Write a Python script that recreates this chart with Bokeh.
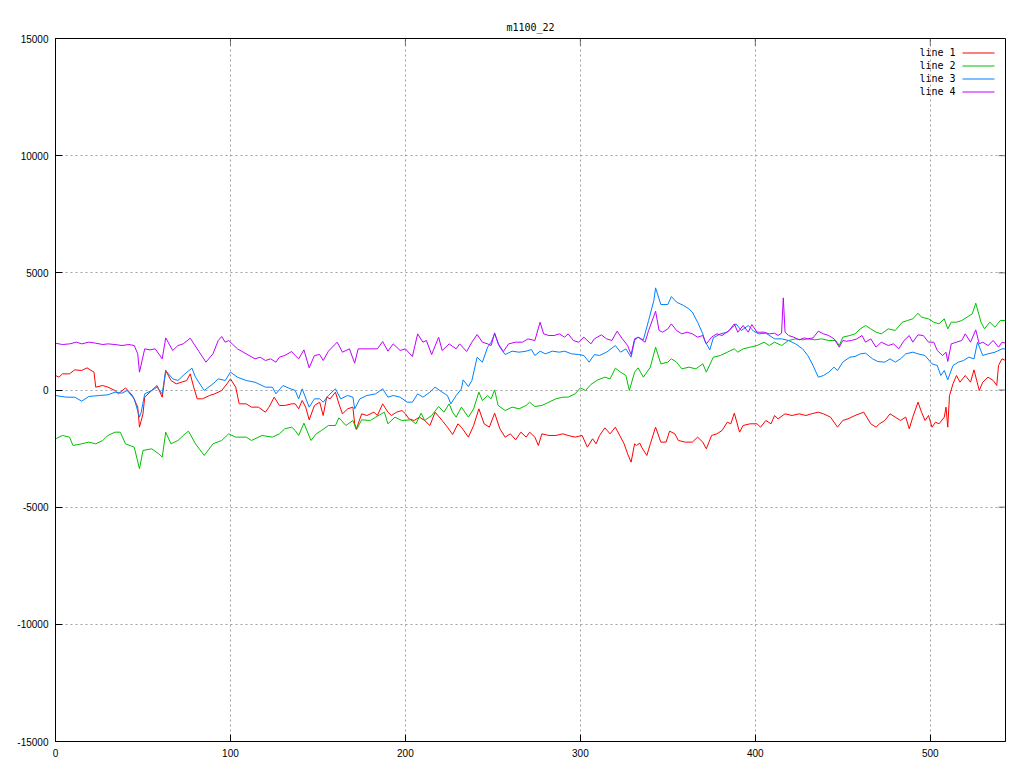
from bokeh.plotting import figure
from bokeh.models import Range1d, FixedTicker, Label, BoxAnnotation
from bokeh.embed import file_html
from bokeh.resources import INLINE

title_text = "m1100_22"
series_names = ["line 1", "line 2", "line 3", "line 4"]
series_colors = ["#ff0000", "#00c000", "#0080ff", "#c000ff"]
x_ticks = [0, 100, 200, 300, 400, 500]
x_tick_labels = ["0", "100", "200", "300", "400", "500"]
y_ticks = [-15000, -10000, -5000, 0, 5000, 10000, 15000]
y_tick_labels = ["-15000", "-10000", "-5000", "0", "5000", "10000", "15000"]

line1 = [(0,619),(2,547),(4,689),(8,689),(11,860),(15,832),(18,946),(22,761),(23,121),(27,192),(30,121),(34,-21),(36,-164),(40,92),(44,-235),(47,-732),(48,-1586),(50,-1017),(51,-306),(55,-21),(58,192),(61,-306),(63,832),(66,405),(69,263),(72,334),(75,405),(77,689),(79,121),(81,-377),(84,-377),(88,-235),(91,-164),(95,-21),(98,263),(100,476),(103,121),(105,-590),(109,-590),(112,-732),(116,-732),(120,-946),(122,-732),(125,-306),(128,-661),(131,-661),(135,-590),
(137,-590),(139,-803),(141,-448),(143,-732),(145,-1273),(148,-661),(151,-519),(153,-1088),(155,-306),(157,-377),(160,-92),(162,-590),(164,-1017),(167,-803),(170,-732),(171,-1443),(172,-1657),(175,-1017),(178,-1088),(182,-946),(184,-1088),(187,-590),(190,-946),(192,-1088),(195,-946),(198,-875),(200,-1017),(202,-1230),(205,-1301),(208,-1159),(211,-1301),(214,-1515),(217,-946),(221,-1301),(224,-1586),(227,-1899),(230,-1443),(232,-1586),(236,-2012),(239,-1515),(242,-803),(245,-1443),(248,-1586),(251,-988),(254,-1657),(257,-2012),(260,-1870),(263,-2126),(266,-1799),(269,-2012),(271,-1799),
(274,-2012),(276,-2368),(278,-1870),(282,-1941),(286,-1941),(290,-1870),(293,-1941),(297,-2012),(301,-1941),(304,-2439),(307,-2083),(309,-2297),(311,-1941),(314,-1614),(317,-1870),(320,-1586),(323,-2012),(325,-2297),(327,-2723),(329,-3079),(331,-2297),(332,-2368),(334,-2268),(335,-2439),(338,-2794),(340,-2297),(343,-1586),(346,-2225),(349,-2225),(351,-1756),(354,-1870),(356,-2154),(360,-2225),(364,-2225),(367,-2012),(370,-2225),(372,-2510),(375,-1941),(378,-1870),(381,-1728),(384,-1372),(386,-1443),(388,-988),(391,-1799),(393,-1515),(397,-1443),(401,-1443),(403,-1586),(406,-1301),(409,-1443),
(411,-1088),(413,-1230),(417,-1017),(421,-1088),(425,-1017),(429,-1088),(432,-1017),(436,-946),(439,-1017),(443,-1159),(447,-1586),(450,-1301),(453,-1230),(457,-1088),(462,-946),(466,-1443),(469,-1586),(471,-1443),(474,-1301),(477,-1017),(480,-1159),(483,-1301),(486,-1159),(488,-1657),(490,-1159),(493,-519),(495,-946),(497,-1301),(499,-1088),(501,-1586),(503,-1372),(505,-1443),(508,-1159),(509,-732),(510,-1586),(511,-235),(513,263),(515,619),(517,334),(520,619),(523,334),(525,860),(528,-21),(530,334),(533,547),(536,405),(538,192),(539,1045),(541,1330),(543,1258)]

line2 = [(0,-2083),(4,-1941),(8,-2012),(10,-2368),(15,-2297),(19,-2225),(23,-2297),(27,-2154),(30,-1941),(34,-1799),(37,-1799),(40,-2297),(45,-2439),(48,-3363),(50,-2581),(55,-2510),(59,-2723),(61,-2865),(63,-1799),(66,-2297),(70,-2154),(73,-1941),(76,-1756),(80,-2297),(85,-2794),(90,-2297),(95,-2154),(99,-1870),(103,-2012),(109,-2012),(112,-2154),(118,-1941),(124,-2012),(128,-1870),(131,-1657),(135,-1586),
(137,-1728),(139,-1941),(142,-1415),(146,-2154),(149,-1870),(152,-1728),(156,-1515),(160,-1515),(162,-1187),(166,-1515),(170,-1301),(172,-1699),(175,-1273),(180,-1301),(183,-1159),(188,-946),(190,-1443),(194,-1159),(198,-1301),(203,-1273),(206,-1443),(209,-988),(211,-1301),(215,-1088),(219,-704),(222,-946),(225,-590),(227,-946),(229,-1159),(232,-732),(236,-1159),(239,-803),(242,-92),(244,-448),(247,-235),(249,-377),(251,7),(253,-661),(257,-875),(261,-732),(265,-803),(269,-661),(271,-519),
(274,-704),(278,-661),(282,-519),(286,-377),(290,-306),(293,-306),(297,-164),(300,92),(303,-21),(306,235),(310,434),(314,547),(317,476),(320,931),(323,761),(326,619),(328,-21),(331,761),(333,946),(336,547),(340,974),(343,1827),(346,1116),(350,1187),(352,1330),(355,1187),(358,903),(362,974),(366,903),(370,1116),(372,761),(376,1401),(380,1472),(384,1614),(388,1756),(390,1614),(393,1756),(397,1827),(401,1898),(405,2041),(408,1898),
(411,2041),(415,1898),(419,2112),(423,2183),(427,2140),(430,2183),(434,2140),(438,2183),(442,2112),(446,2112),(448,1898),(450,2254),(454,2325),(457,2396),(460,2609),(463,2752),(466,2609),(469,2467),(472,2396),(476,2609),(480,2538),(484,2894),(487,2965),(490,3036),(493,3278),(495,3107),(499,3036),(502,2894),(505,2823),(508,3036),(510,2609),(512,2894),(515,2894),(518,2965),(521,3107),(524,3249),(526,3704),(529,2894),(531,2609),(534,2894),(537,2681),(540,2965),(543,2965)]

line3 = [(0,-235),(6,-306),(11,-306),(15,-476),(19,-277),(25,-235),(30,-206),(34,-92),(38,-135),(41,-21),(45,-377),(48,-1159),(49,-946),(51,-164),(55,-21),(58,121),(61,-164),(63,832),(67,476),(70,405),(74,689),(78,931),(80,547),(85,-21),(90,263),(93,476),(97,405),(100,761),(104,547),(109,405),(114,334),(120,121),(124,121),(126,-164),(130,192),(133,92),
(137,-21),(139,-377),(141,50),(145,-732),(148,-377),(151,-377),(153,-519),(156,-235),(160,50),(163,-377),(167,-235),(170,-306),(171,-803),(174,-377),(178,-235),(183,-164),(187,50),(190,-306),(193,-235),(197,-306),(201,-519),(204,-519),(207,-164),(210,-306),(214,-92),(217,121),(221,-92),(224,-235),(226,-590),(229,-235),(232,50),(233,434),(236,149),(238,405),(241,1401),(244,1187),(247,1827),(249,2041),(251,2396),(254,1827),(257,1514),(261,1656),(265,1614),(269,1656),(272,1728),
(274,1472),(277,1656),(280,1543),(284,1656),(288,1614),(291,1656),(295,1543),(299,1514),(302,1472),(305,1187),(308,1514),(311,1472),(315,1614),(320,1898),(323,1614),(326,1756),(329,1401),(331,2112),(333,2254),(336,2140),(339,2965),(342,3818),(343,4358),(346,3647),(350,3647),(352,3988),(355,3747),(359,3605),(362,3463),(364,3321),(367,2894),(370,2396),(371,2112),(374,1713),(376,2225),(380,2396),(384,2467),(389,2823),(392,2538),(396,2752),(399,2510),(402,2396),(406,2425),
(411,2183),(415,2183),(419,2112),(423,1969),(427,1756),(430,1472),(433,1045),(436,547),(439,619),(442,761),(445,974),(447,832),(450,1187),(454,1401),(457,1429),(460,1543),(463,1571),(467,1330),(470,1216),(474,1187),(477,1330),(480,1187),(483,1330),(486,1543),(490,1614),(493,1543),(497,1472),(501,1116),(504,1045),(506,619),(508,832),(510,434),(513,1045),(516,1187),(519,1258),(522,1401),(525,1330),(527,2041),(530,1472),(533,1543),(537,1614),(541,1756),(543,1756)]

line4 = [(0,1998),(4,1940),(8,1969),(12,2041),(15,1969),(19,2041),(23,1998),(27,1940),(30,1969),(34,1940),(38,1898),(42,1940),(45,1898),(47,1543),(48,761),(51,1756),(54,1713),(57,1756),(61,1330),(63,2225),(67,1685),(70,1898),(73,1969),(77,2211),(82,1642),(86,1187),(90,1543),(93,2112),(95,2282),(97,2040),(99,2112),(101,1969),(104,1756),(109,1543),(114,1330),(117,1400),(120,1258),(123,1330),(126,1187),(128,1401),(131,1472),(135,1642),
(137,1472),(139,1330),(142,1713),(145,945),(148,1472),(151,1514),(153,1258),(156,1656),(161,2041),(164,1614),(168,1756),(171,1145),(173,1756),(177,1756),(181,1756),(184,1756),(187,2069),(190,1656),(193,1969),(197,1685),(200,1756),(204,1429),(207,2396),(210,2041),(212,2112),(215,1514),(219,2254),(221,1685),(225,1969),(229,1756),(231,1969),(235,1642),(238,2041),(241,2368),(244,2041),(247,1969),(249,1898),(251,2439),(253,1969),(256,1642),(259,1969),(263,2041),(267,2041),(270,2183),
(274,2112),(277,2893),(279,2396),(282,2325),(285,2325),(288,2396),(291,2254),(293,2396),(296,2112),(299,2041),(302,2254),(306,1969),(308,2183),(312,2353),(315,2183),(318,2112),(321,2510),(324,2183),(327,1898),(329,1514),(331,2183),(333,2254),(337,2041),(339,2538),(343,3363),(345,2538),(347,2467),(350,2609),(352,2823),(355,2538),(358,2396),(361,2467),(364,2396),(367,2254),(370,2325),(372,1969),(375,2254),(378,2396),(381,2325),(385,2538),(388,2823),(390,2467),(393,2752),(396,2467),(398,2794),(401,2467),(405,2467),(408,2396),
(411,2425),(413,2325),(415,2425),(416,3932),(417,2467),(419,2325),(422,2254),(425,2140),(428,2225),(430,2183),(433,2225),(436,2510),(439,2396),(442,2325),(445,2183),(448,1827),(450,2112),(452,2083),(455,2112),(458,2183),(461,2325),(463,2041),(466,2183),(469,1827),(472,2041),(476,1898),(479,1969),(482,1756),(485,2112),(488,2325),(490,2041),(493,2353),(496,2325),(499,2041),(502,2041),(504,1685),(507,1472),(509,1614),(510,1216),(512,1969),(515,2041),(518,2112),(520,2396),(523,2041),(526,2567),(528,1969),(530,2041),(533,1898),(536,2112),(539,1827),(541,2041),(543,1998)]

all_series = [line1, line2, line3, line4]

FRAME_W = 950
FRAME_H = 703
TICK = 7

p = figure(width=1016, height=762, output_backend="svg", toolbar_location=None,
           x_range=Range1d(0, 543), y_range=Range1d(-15000, 15000),
           min_border_left=55, min_border_right=11, min_border_top=38, min_border_bottom=21)
p.background_fill_color = "white"
p.border_fill_color = "white"
p.outline_line_color = "black"
p.outline_line_width = 1

p.title.text = title_text
p.title.align = "center"
p.title.text_font = "DejaVu Sans Mono"
p.title.text_font_size = "10px"
p.title.text_font_style = "normal"
p.title.text_color = "black"
p.title.standoff = 12

def style_axis(ax, ticks, labels):
    ax.ticker = FixedTicker(ticks=ticks)
    ax.major_label_overrides = {t: l for t, l in zip(ticks, labels)}
    ax.major_tick_in = TICK
    ax.major_tick_out = 0
    ax.minor_tick_in = 0
    ax.minor_tick_out = 0
    ax.major_tick_line_color = "black"
    ax.axis_line_color = "black"
    ax.major_label_text_font = "Liberation Sans"
    ax.major_label_text_font_size = "10px"
    ax.major_label_text_color = "black"
    ax.major_label_standoff = 7

style_axis(p.xaxis[0], x_ticks, x_tick_labels)
style_axis(p.yaxis[0], y_ticks, y_tick_labels)

# mirrored inward ticks on the right and top frame edges
for t in y_ticks:
    p.add_layout(BoxAnnotation(left=FRAME_W - TICK, right=FRAME_W, top=t, bottom=t,
                               left_units="screen", right_units="screen",
                               fill_alpha=0, line_color="black", line_width=1))
for t in x_ticks:
    p.add_layout(BoxAnnotation(left=t, right=t, top=FRAME_H, bottom=FRAME_H - TICK,
                               top_units="screen", bottom_units="screen",
                               fill_alpha=0, line_color="black", line_width=1))

p.xgrid.ticker = FixedTicker(ticks=x_ticks)
p.ygrid.ticker = FixedTicker(ticks=y_ticks)
for g in (p.xgrid[0], p.ygrid[0]):
    g.grid_line_color = "#a0a0a0"
    g.grid_line_dash = "2 3"
    g.grid_line_width = 1

for data, color in zip(all_series, series_colors):
    xs = [d[0] for d in data]
    ys = [d[1] for d in data]
    p.line(xs, ys, line_color=color, line_width=1)

# gnuplot-style key: text then sample, top right (frame screen units)
for i, (name, color) in enumerate(zip(series_names, series_colors)):
    sy = FRAME_H - 14 - 13 * i
    p.add_layout(Label(x=900, y=sy, x_units="screen", y_units="screen", text=name,
                       text_align="right", text_baseline="middle",
                       text_font="DejaVu Sans Mono", text_font_size="10px", text_color="black"))
    p.add_layout(BoxAnnotation(left=907, right=939, top=sy, bottom=sy - 1,
                               left_units="screen", right_units="screen",
                               top_units="screen", bottom_units="screen",
                               fill_color=color, fill_alpha=1, line_color=None,
                               border_radius=0))

open("out.html", "w").write(file_html(p, INLINE))
